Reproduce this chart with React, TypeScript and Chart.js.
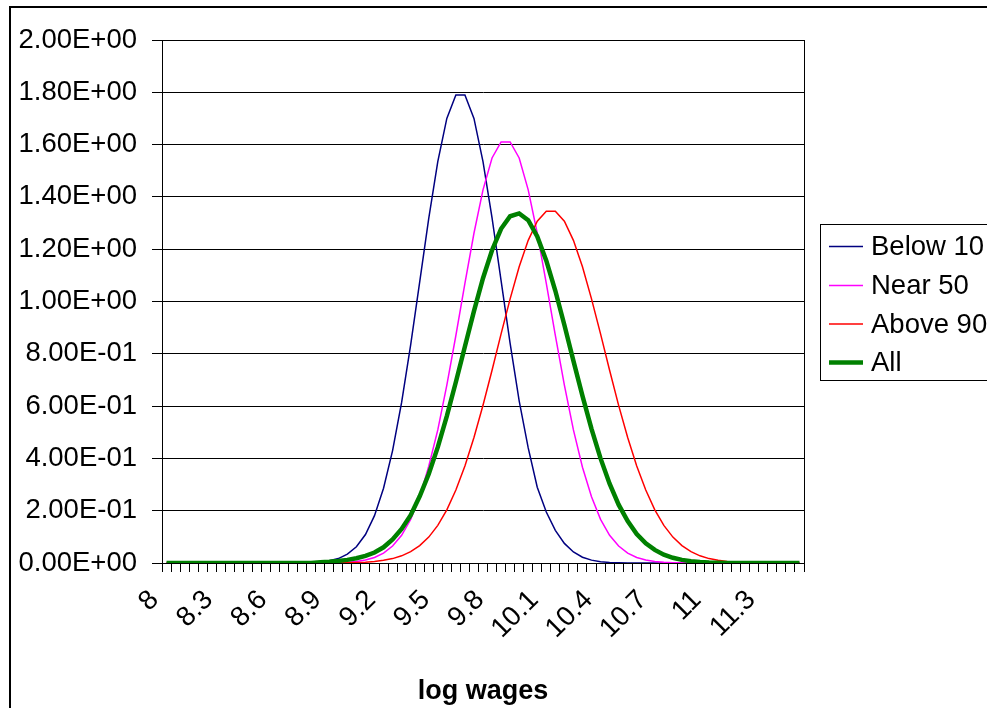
import React, { useEffect, useRef } from 'react';
import { Chart, registerables } from 'chart.js';

Chart.register(...registerables);

const logWages = [
  '8.00', '8.05', '8.10', '8.15', '8.20', '8.25', '8.30', '8.35', '8.40', '8.45',
  '8.50', '8.55', '8.60', '8.65', '8.70', '8.75', '8.80', '8.85', '8.90', '8.95',
  '9.00', '9.05', '9.10', '9.15', '9.20', '9.25', '9.30', '9.35', '9.40', '9.45',
  '9.50', '9.55', '9.60', '9.65', '9.70', '9.75', '9.80', '9.85', '9.90', '9.95',
  '10.00', '10.05', '10.10', '10.15', '10.20', '10.25', '10.30', '10.35', '10.40', '10.45',
  '10.50', '10.55', '10.60', '10.65', '10.70', '10.75', '10.80', '10.85', '10.90', '10.95',
  '11.00', '11.05', '11.10', '11.15', '11.20', '11.25', '11.30', '11.35', '11.40', '11.45',
  '11.50',
];

const shownTickLabels = ['8', '8.3', '8.6', '8.9', '9.2', '9.5', '9.8', '10.1', '10.4', '10.7', '11', '11.3'];

const below10 = [
  0, 0, 0, 0, 0, 0, 0, 0, 0, 0,
  0, 0, 0, 0, 0.0003, 0.0007, 0.0018, 0.004, 0.0085, 0.017,
  0.034, 0.062, 0.109, 0.181, 0.286, 0.43, 0.614, 0.834, 1.075, 1.318,
  1.535, 1.70, 1.79, 1.79, 1.70, 1.535, 1.32, 1.08, 0.84, 0.62,
  0.44, 0.29, 0.195, 0.125, 0.075, 0.042, 0.022, 0.011, 0.005, 0.002,
  0.001, 0, 0, 0, 0, 0, 0, 0, 0, 0,
  0, 0, 0, 0, 0, 0, 0, 0, 0, 0,
  0,
];

const near50 = [
  0, 0, 0, 0, 0, 0, 0, 0, 0, 0,
  0, 0, 0, 0, 0, 0, 0, 0, 0.0006, 0.0014,
  0.003, 0.006, 0.0115, 0.021, 0.038, 0.065, 0.106, 0.167, 0.253, 0.37,
  0.509, 0.68, 0.87, 1.069, 1.261, 1.427, 1.549, 1.61, 1.61, 1.549,
  1.427, 1.261, 1.069, 0.87, 0.68, 0.509, 0.366, 0.253, 0.167, 0.106,
  0.065, 0.038, 0.021, 0.0115, 0.006, 0.003, 0.0014, 0.0006, 0, 0,
  0, 0, 0, 0, 0, 0, 0, 0, 0, 0,
  0,
];

const above90 = [
  0, 0, 0, 0, 0, 0, 0, 0, 0, 0,
  0, 0, 0, 0, 0, 0, 0, 0, 0, 0.0005,
  0.001, 0.0018, 0.0033, 0.0058, 0.0101, 0.0168, 0.0274, 0.0433, 0.0666, 0.099,
  0.144, 0.203, 0.279, 0.371, 0.48, 0.603, 0.737, 0.876, 1.01, 1.133,
  1.234, 1.307, 1.345, 1.345, 1.307, 1.234, 1.133, 1.01, 0.876, 0.737,
  0.603, 0.48, 0.371, 0.279, 0.203, 0.144, 0.099, 0.0666, 0.0433, 0.0274,
  0.0168, 0.0101, 0.0058, 0.0033, 0.0018, 0.001, 0.0005, 0, 0, 0,
  0,
];

const allWorkers = [
  0, 0, 0, 0, 0, 0, 0, 0, 0, 0,
  0, 0, 0, 0, 0, 0, 0, 0.003, 0.005, 0.008,
  0.012, 0.018, 0.027, 0.04, 0.06, 0.09, 0.13, 0.183, 0.255, 0.34,
  0.443, 0.562, 0.692, 0.828, 0.963, 1.089, 1.196, 1.278, 1.326, 1.337,
  1.311, 1.249, 1.156, 1.041, 0.91, 0.773, 0.639, 0.513, 0.40, 0.303,
  0.223, 0.16, 0.111, 0.075, 0.05, 0.032, 0.02, 0.012, 0.007, 0.004,
  0.002, 0.001, 0, 0, 0, 0, 0, 0, 0, 0,
  0,
];

const seriesNames = ['Below 10', 'Near 50', 'Above 90', 'All'];
const seriesColors = ['#000080', '#FF00FF', '#FF0000', '#008000'];
const seriesWidths = [1.5, 1.5, 1.5, 4.5];

const FONT = "'Liberation Sans', Arial, sans-serif";
const FSIZE = 27.5;

function sci(v: number): string {
  const s = Number(v).toExponential(2);
  const [m, e] = s.split('e');
  const n = parseInt(e, 10);
  return m + 'E' + (n < 0 ? '-' : '+') + String(Math.abs(n)).padStart(2, '0');
}

const decorPlugin = {
  id: 'decor',
  beforeDatasetsDraw(chart: any) {
    const ctx = chart.ctx;
    const a = chart.chartArea;
    ctx.save();
    ctx.strokeStyle = '#000';
    ctx.lineWidth = 1;
    ctx.strokeRect(Math.round(a.left) + 0.5, Math.round(a.top) + 0.5, Math.round(a.right - a.left), Math.round(a.bottom - a.top));
    ctx.restore();
  },
  afterDraw(chart: any) {
    const ctx = chart.ctx;
    ctx.save();
    ctx.strokeStyle = '#000';
    ctx.lineWidth = 2;
    ctx.beginPath();
    ctx.moveTo(10, 708);
    ctx.lineTo(10, 7);
    ctx.lineTo(990, 7);
    ctx.stroke();
    ctx.lineWidth = 1;
    ctx.strokeStyle = '#000';
    ctx.strokeRect(820.5, 224.5, 220, 156);
    const rows = [246.5, 285.5, 324, 362.5];
    ctx.font = FSIZE + 'px ' + FONT;
    ctx.textBaseline = 'middle';
    ctx.textAlign = 'left';
    for (let i = 0; i < seriesNames.length; i++) {
      ctx.strokeStyle = seriesColors[i];
      ctx.lineWidth = i === 3 ? 4.5 : 1.5;
      ctx.beginPath();
      ctx.moveTo(829, rows[i]);
      ctx.lineTo(863, rows[i]);
      ctx.stroke();
      ctx.fillStyle = '#000';
      ctx.fillText(seriesNames[i], 871, rows[i] + 1);
    }
    ctx.restore();
  },
};

export default function App() {
  const ref = useRef<HTMLCanvasElement | null>(null);
  useEffect(() => {
    const canvas = ref.current;
    if (!canvas) return;
    const datasets = [below10, near50, above90, allWorkers].map((d, i) => ({
      label: seriesNames[i],
      data: d,
      borderColor: seriesColors[i],
      backgroundColor: seriesColors[i],
      borderWidth: seriesWidths[i],
      pointRadius: 0,
      tension: 0,
      fill: false,
      order: 4 - i,
    }));
    const chart = new Chart(canvas, {
      type: 'line',
      data: { labels: logWages, datasets },
      options: {
        responsive: false,
        animation: false,
        layout: { padding: { left: 0, top: 40, right: 183, bottom: 0 } },
        plugins: { legend: { display: false }, tooltip: { enabled: false }, title: { display: false } },
        scales: {
          x: {
            type: 'category',
            offset: true,
            grid: { offset: true, drawOnChartArea: false, drawTicks: true, tickLength: 9, color: '#000', lineWidth: 1 },
            border: { display: true, color: '#000', width: 1 },
            ticks: {
              autoSkip: false,
              minRotation: 45,
              maxRotation: 45,
              padding: 12,
              labelOffset: -12,
              color: '#000',
              font: { family: FONT, size: FSIZE },
              callback: (_v: any, idx: number) => (idx % 6 === 0 ? shownTickLabels[idx / 6] : ''),
            },
            title: {
              display: true,
              text: 'log wages',
              color: '#000',
              font: { family: FONT, size: 27, weight: 'bold' },
              padding: { top: 0, bottom: 0 },
            },
            afterFit: (s: any) => { s.height = 145; },
          },
          y: {
            min: 0,
            max: 2,
            grid: { color: '#000', lineWidth: 1, drawTicks: true, tickLength: 10 },
            border: { display: true, color: '#000', width: 1 },
            ticks: {
              stepSize: 0.2,
              padding: 15,
              color: '#000',
              font: { family: FONT, size: FSIZE },
              callback: (v: any) => sci(Number(v)),
            },
            afterFit: (s: any) => { s.width = 162; },
          },
        },
      },
      plugins: [decorPlugin],
    } as any);
    return () => chart.destroy();
  }, []);
  return (
    <div style={{ position: 'fixed', left: 0, top: 0, width: 987, height: 708, background: '#fff', overflow: 'hidden' }}>
      <canvas ref={ref} width={987} height={708} style={{ display: 'block', width: 987, height: 708 }} />
    </div>
  );
}
